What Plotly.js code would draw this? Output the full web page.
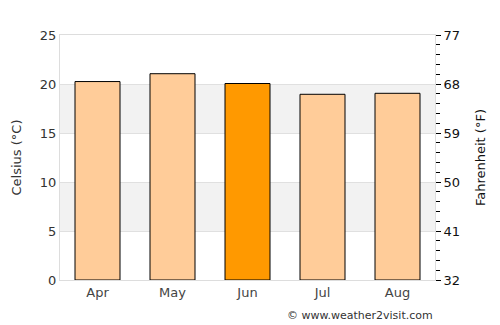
<!DOCTYPE html>
<html>
<head>
<meta charset="utf-8">
<script src="https://cdn.plot.ly/plotly-3.0.1.min.js"></script>
<style>html,body{margin:0;padding:0;background:#fff;}#chart{width:500px;height:325px;}</style>
</head>
<body>
<div id="chart"></div>
<script>
const months = ["Apr", "May", "Jun", "Jul", "Aug"];
const celsius = [20.25, 21.05, 20.05, 18.95, 19.05];
const barColors = ["#ffcc99", "#ffcc99", "#ff9900", "#ffcc99", "#ffcc99"];
const fahrenheitTicks = [32, 41, 50, 59, 68, 77];

const font = {family: "DejaVu Sans, sans-serif", size: 13, color: "#333"};

const trace = {
  type: "bar",
  x: months,
  y: celsius,
  width: 0.6,
  marker: {color: barColors, line: {color: "#000", width: 1}},
  hoverinfo: "x+y"
};

// invisible companion trace so the Fahrenheit axis is drawn
const traceF = {
  type: "scatter", mode: "markers",
  x: months,
  y: celsius.map(c => c * 1.8 + 32),
  yaxis: "y2",
  marker: {opacity: 0, size: 1},
  hoverinfo: "skip"
};

const bands = [[5, 10], [15, 20]].map(b => ({
  type: "rect", xref: "paper", yref: "y", x0: 0, x1: 1, y0: b[0], y1: b[1],
  fillcolor: "#f2f2f2", line: {width: 0}, layer: "below"
}));

const layout = {
  width: 500, height: 325,
  margin: {l: 60, r: 65, t: 35, b: 45},
  paper_bgcolor: "#fff", plot_bgcolor: "#fff",
  showlegend: false,
  font: font,
  shapes: bands,
  xaxis: {
    showline: true, linecolor: "#dddddd", linewidth: 1, mirror: true,
    showgrid: false, ticks: "", tickfont: {size: 13, color: "#444"},
    fixedrange: true
  },
  yaxis: {
    range: [0, 25], dtick: 5, tick0: 0,
    showline: true, linecolor: "#dddddd", linewidth: 1,
    showgrid: true, gridcolor: "#e0e0e0", gridwidth: 1,
    zeroline: false, ticks: "", tickfont: {size: 13, color: "#333"},
    title: {text: "Celsius (°C)", font: {size: 13, color: "#333"}, standoff: 15},
    fixedrange: true
  },
  yaxis2: {
    overlaying: "y", side: "right", range: [32, 77],
    tickmode: "array", tickvals: fahrenheitTicks, ticktext: fahrenheitTicks.map(String),
    showline: true, linecolor: "#dddddd", linewidth: 1,
    showgrid: false, zeroline: false,
    ticks: "outside", ticklen: 5, tickcolor: "#000", tickwidth: 1,
    minor: {ticks: "outside", ticklen: 4, tickcolor: "#000", dtick: 1.8, tick0: 32, showgrid: false},
    tickfont: {size: 13, color: "#111"},
    title: {text: "Fahrenheit (°F)", font: {size: 13, color: "#111"}, standoff: 16},
    fixedrange: true
  },
  annotations: [{
    text: "© www.weather2visit.com", xref: "paper", yref: "paper",
    x: 1, y: 0, xanchor: "right", yanchor: "top", yshift: -27,
    showarrow: false, font: {size: 11, color: "#333"}
  }]
};

Plotly.newPlot("chart", [trace, traceF], layout, {displayModeBar: false, staticPlot: true});
</script>
</body>
</html>
